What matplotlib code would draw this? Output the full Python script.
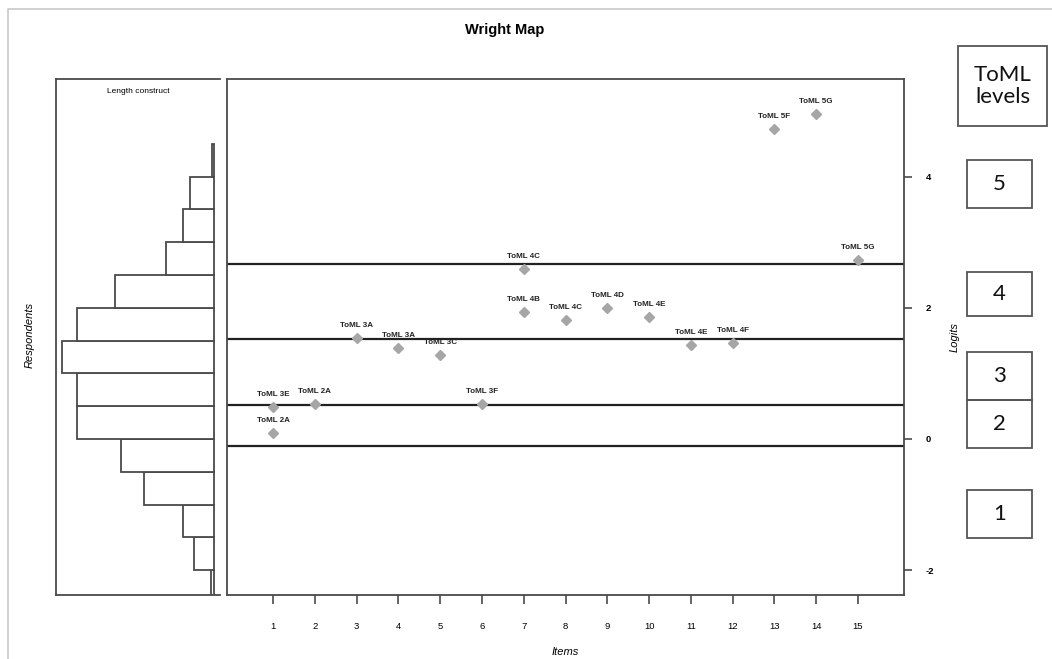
import numpy as np
import matplotlib
matplotlib.use("Agg")
import matplotlib.pyplot as plt
import matplotlib.patches as patches

plt.rcParams['font.family'] = ['Liberation Sans', 'DejaVu Sans']
plt.rcParams['axes.unicode_minus'] = False

# item difficulties (logits) and their labels
items = [1, 1, 2, 3, 4, 5, 6, 7, 7, 8, 9, 10, 11, 12, 13, 14, 15]
logits = [0.49, 0.09, 0.53, 1.54, 1.38, 1.28, 0.53, 2.59, 1.93, 1.81,
          2.00, 1.86, 1.43, 1.47, 4.72, 4.95, 2.73]
item_labels = ['ToML 3E', 'ToML 2A', 'ToML 2A', 'ToML 3A', 'ToML 3A', 'ToML 3C',
               'ToML 3F', 'ToML 4C', 'ToML 4B', 'ToML 4C', 'ToML 4D', 'ToML 4E',
               'ToML 4E', 'ToML 4F', 'ToML 5F', 'ToML 5G', 'ToML 5G']

# level thresholds
thresholds = [2.67, 1.52, 0.52, -0.10]

# respondent histogram (bins of 0.5 logit, bottom to top)
bin_edges = [-2.5, -2.0, -1.5, -1.0, -0.5, 0.0, 0.5, 1.0, 1.5, 2.0, 2.5, 3.0, 3.5, 4.0, 4.5]
resp_counts = [1.5, 9, 14, 32, 42, 62, 62, 69, 62, 45, 22, 14, 11, 1]

level_names = ['5', '4', '3', '2', '1']

W, H = 1052, 659
fig = plt.figure(figsize=(W / 100, H / 100), dpi=100)

def px_rect(x0, y0, x1, y1):
    return [x0 / W, 1 - y1 / H, (x1 - x0) / W, (y1 - y0) / H]

ylim = (-2.38, 5.49)
edge = '#4a4a4a'

# respondents panel
axh = fig.add_axes(px_rect(56, 79, 220, 595))
heights = np.diff(bin_edges)
axh.barh(bin_edges[:-1], resp_counts, height=heights, align='edge',
         facecolor='white', edgecolor=edge, linewidth=1.3)
m = max(resp_counts)
axh.set_xlim(m * 1.04, -m * 0.04)
axh.set_ylim(*ylim)
axh.set_xticks([])
axh.set_yticks([])
axh.spines['right'].set_visible(False)
for s in ['left', 'top', 'bottom']:
    axh.spines[s].set_color(edge)
    axh.spines[s].set_linewidth(1.3)
axh.text(0.5, 0.975, 'Length construct', transform=axh.transAxes,
         ha='center', va='center', fontsize=6)

# items panel
ax = fig.add_axes(px_rect(227, 79, 904, 595))
for t in thresholds:
    ax.axhline(t, color='#222222', linewidth=1.6)
ax.plot(items, logits, linestyle='none', marker='D', markersize=5.5,
        color='#a6a6a6', markeredgecolor='#a6a6a6')
for xi, yi, lab in zip(items, logits, item_labels):
    ax.annotate(lab, (xi, yi), xytext=(0, 9), textcoords='offset points',
                ha='center', va='center', fontsize=5.8, fontweight='bold',
                color='#222222')
ax.set_xlim(-0.1, 16.1)
ax.set_ylim(*ylim)
ax.set_xticks(range(1, 16))
ax.tick_params(axis='x', length=6.5, width=1.2, color=edge, pad=13, labelsize=6.8)
ax.yaxis.tick_right()
ax.set_yticks([-2, 0, 2, 4])
ax.tick_params(axis='y', length=5.8, width=1.2, color=edge, pad=10, labelsize=6.8)
for lab in ax.get_yticklabels():
    lab.set_fontweight('bold')
for s in ax.spines.values():
    s.set_color(edge)
    s.set_linewidth(1.3)
ax.yaxis.set_label_position('right')
ax.set_ylabel('Logits', fontsize=8, style='italic')
ax.yaxis.set_label_coords(1.068, 0.5)
ax.set_xlabel('Items', fontsize=8, style='italic')
ax.xaxis.set_label_coords(0.5, -0.101)

fig.text(30 / W, 1 - 335 / H, 'Respondents', rotation=90, ha='center', va='center',
         fontsize=8, style='italic')
fig.text(505 / W, 1 - 30 / H, 'Wright Map', ha='center', va='center',
         fontsize=10.5, fontweight='bold')

# overlay in pixel units for the level boxes and outer frame
ov = fig.add_axes([0, 0, 1, 1], zorder=-1)
ov.set_xlim(0, W)
ov.set_ylim(H, 0)
ov.axis('off')
ov.plot([8, 8, W], [H, 9, 9], color='#c8c8cc', linewidth=1.2)

def level_box(x0, y0, x1, y1, text, lw=1.3):
    ov.add_patch(patches.Rectangle((x0, y0), x1 - x0, y1 - y0, fill=False,
                                   edgecolor='#555555', linewidth=lw))
    ov.text((x0 + x1) / 2, (y0 + y1) / 2, text, ha='center', va='center',
            fontsize=16, family=['Lato', 'DejaVu Sans'], color='#111111',
            linespacing=1.1)

level_box(958, 46, 1047, 126, 'ToML\nlevels')
box_rows = [(160, 208), (272, 316), (352, 400), (400, 448), (490, 538)]
for name, (y0, y1) in zip(level_names, box_rows):
    level_box(967, y0, 1032, y1, name)

fig.savefig('out.png', dpi=100)
